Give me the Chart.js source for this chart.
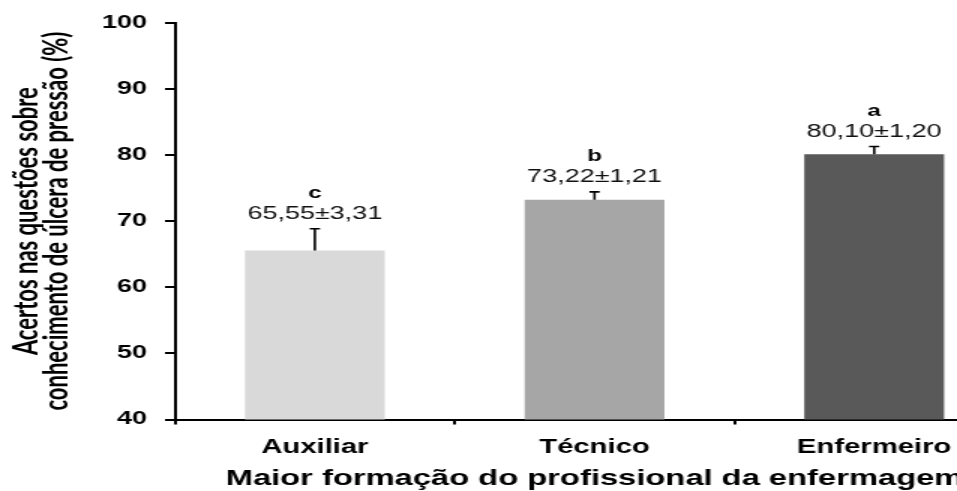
<!DOCTYPE html>
<html>
<head>
<meta charset="utf-8">
<script src="https://cdn.jsdelivr.net/npm/chart.js@4/dist/chart.umd.min.js"></script>
<style>
  html, body { margin: 0; padding: 0; background: #fff; overflow: hidden; width: 957px; height: 491px; }
</style>
</head>
<body>
<!-- drawing buffer is narrower than the displayed box: the figure is widened horizontally -->
<canvas id="chart" width="680" height="491" style="display:block;width:1020px;height:491px"></canvas>
<script>
// Categories, means, standard errors and group letters
const categories = ['Auxiliar', 'Técnico', 'Enfermeiro'];
const means = [65.55, 73.22, 80.10];
const errors = [3.31, 1.21, 1.20];
const groupLetters = ['c', 'b', 'a'];
const barColors = ['#d9d9d9', '#a6a6a6', '#595959'];
const yTicks = [40, 50, 60, 70, 80, 90, 100];

const SANS = '"Liberation Sans", Arial, Helvetica, sans-serif';
Chart.defaults.font.family = SANS;
Chart.defaults.color = '#000';

const fmt = v => v.toFixed(2).replace('.', ',');

// Upper error bars with the mean ± SE text and the significance letter above
const errorBarPlugin = {
  id: 'errorBars',
  afterDatasetsDraw(chart) {
    const { ctx } = chart;
    const y = chart.scales.y;
    const meta = chart.getDatasetMeta(0);
    ctx.save();
    meta.data.forEach((bar, i) => {
      const x = bar.x;
      const yBase = y.getPixelForValue(means[i]);
      const yTop = y.getPixelForValue(means[i] + errors[i]);
      ctx.strokeStyle = '#000';
      ctx.lineWidth = 1.6;
      ctx.beginPath();
      ctx.moveTo(x, yBase);
      ctx.lineTo(x, yTop);
      ctx.moveTo(x - 3.4, yTop);
      ctx.lineTo(x + 3.4, yTop);
      ctx.stroke();

      ctx.fillStyle = '#111';
      ctx.textAlign = 'center';
      ctx.textBaseline = 'alphabetic';
      ctx.font = '18px ' + SANS;
      ctx.fillText(fmt(means[i]) + '±' + fmt(errors[i]), x, yTop - 9.5);
      ctx.fillStyle = '#000';
      ctx.font = 'bold 16px ' + SANS;
      ctx.fillText(groupLetters[i], x, yTop - 30.5);
    });
    ctx.restore();
  }
};

new Chart(document.getElementById('chart'), {
  type: 'bar',
  data: {
    labels: categories,
    datasets: [{
      data: means,
      backgroundColor: barColors,
      borderWidth: 0,
      barPercentage: 0.5,
      categoryPercentage: 1.0
    }]
  },
  options: {
    responsive: false,
    devicePixelRatio: 1,
    animation: false,
    layout: { padding: { top: 21.5, right: 4, bottom: 0, left: 0 } },
    plugins: { legend: { display: false }, tooltip: { enabled: false } },
    scales: {
      x: {
        offset: true,
        grid: { display: true, drawOnChartArea: false, drawTicks: true, tickLength: 5, lineWidth: 2, color: '#000', offset: true },
        border: { display: true, color: '#000', width: 2 },
        ticks: { color: '#000', padding: 11, font: { size: 19.5, weight: 'bold' } },
        title: {
          display: true,
          text: 'Maior formação do profissional da enfermagem',
          color: '#000',
          font: { size: 21.8, weight: 'bold', lineHeight: 1 },
          padding: { top: 0, bottom: 1 }
        },
        afterFit(scale) { scale.height = 71.5; }
      },
      y: {
        min: 40,
        max: 100,
        afterBuildTicks(scale) { scale.ticks = yTicks.map(v => ({ value: v })); },
        grid: { display: true, drawOnChartArea: false, drawTicks: true, tickLength: 6.7, lineWidth: 2, color: '#000' },
        border: { display: true, color: '#000', width: 2 },
        ticks: { color: '#000', padding: 12, font: { size: 18, weight: 'bold' } },
        title: {
          display: true,
          text: ['Acertos nas questões sobre', 'conhecimento de úlcera de pressão (%)'],
          color: '#000',
          font: { family: 'Lato', size: 22, weight: 'bold', lineHeight: 0.91 },
          padding: { top: 8, bottom: 0 }
        },
        afterFit(scale) { scale.width = 116.7; }
      }
    }
  },
  plugins: [errorBarPlugin]
});
</script>
</body>
</html>
